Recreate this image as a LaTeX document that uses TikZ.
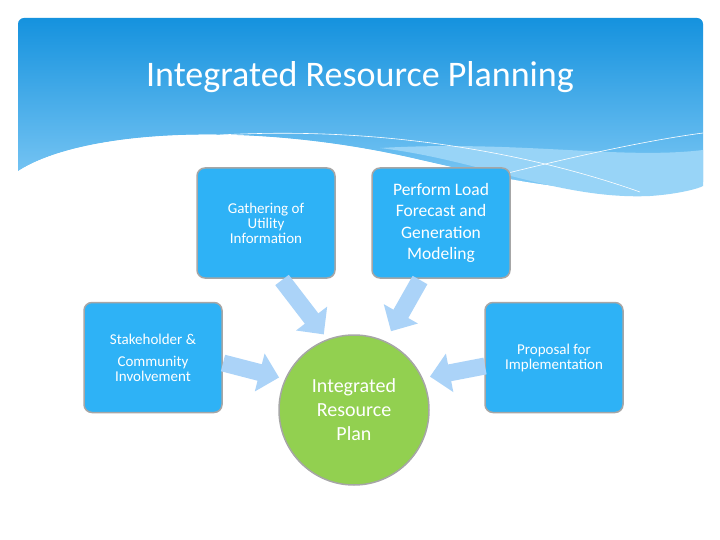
\documentclass[tikz,border=0pt]{standalone}
\usepackage{fontspec}
\setmainfont{Carlito}
\usetikzlibrary{arrows.meta}
\definecolor{boxblue}{HTML}{2EB2F6}
\definecolor{arrblue}{HTML}{ABD3F8}
\definecolor{topblue}{HTML}{1592DE}
\definecolor{lowblue}{HTML}{7FC9F5}
\definecolor{circgreen}{HTML}{92D050}
\tikzset{
  stepbox/.style={draw=gray!70, line width=1.5pt, fill=boxblue, rounded corners=8pt, minimum width=138pt, minimum height=110pt, text=white, align=center, font=\fontsize{15}{18}\selectfont, inner sep=2pt},
  flow/.style={draw=arrblue, line width=17pt, -{Triangle[length=20pt,width=38pt]}, shorten >=2pt}
}
\begin{document}
\begin{tikzpicture}[x=1pt,y=-1pt]
\useasboundingbox (0,0) rectangle (720,540);
\fill[white] (0,0) rectangle (720,540);
% header
\shade[top color=topblue, bottom color=lowblue, rounded corners=6pt]
  (18,190) -- (18,18) -- (703,18) -- (703,190) [sharp corners] -- (703,185);
\fill[white] (17,172) .. controls (80,130) and (250,120) .. (420,160)
  .. controls (530,185) and (600,200) .. (704,182) -- (704,200) -- (17,200) -- cycle;
\fill[lowblue!80] (380,148) .. controls (480,160) and (560,200) .. (650,196) .. controls (680,194) and (700,188) .. (703,186) -- (703,150) .. controls (620,160) and (520,140) .. (380,148);
\fill[white] (17,172) .. controls (80,130) and (250,120) .. (420,160)
  .. controls (500,178) and (560,195) .. (640,199) -- (640,205) -- (17,205) -- cycle;
\draw[white, line width=0.6pt] (220,135) .. controls (400,125) and (550,160) .. (640,192);
\draw[white, line width=0.6pt] (500,175) .. controls (580,155) and (650,140) .. (703,133);
\node[text=white, font=\fontsize{36}{40}\selectfont] (title) at (360,77) {Integrated Resource Planning};
% nodes
\node[stepbox] (gather) at (266,223) {Gathering of\\[-3pt]Utility\\[-3pt]Information};
\node[stepbox, font=\fontsize{17.5}{21.5}\selectfont] (perform) at (441,223) {Perform Load\\Forecast and\\Generation\\Modeling};
\node[stepbox] (stake) at (153,357.5) {Stakeholder \&\\[4pt]Community\\[-3pt]Involvement};
\node[stepbox] (prop) at (554,357.5) {Proposal for\\[-3pt]Implementation};
\coordinate (ga) at (282,280);
\coordinate (gb) at (325,336);
\coordinate (pa) at (420,280);
\coordinate (pb) at (390,333);
\coordinate (sa) at (223,363);
\coordinate (sb) at (281,378);
\coordinate (ra) at (485,366);
\coordinate (rb) at (428,377);
\draw[flow] (ga) -- (gb);
\draw[flow] (pa) -- (pb);
\draw[flow] (sa) -- (sb);
\draw[flow] (ra) -- (rb);
\node[circle, draw=gray!70, line width=1.5pt, fill=circgreen, minimum size=150pt, text=white, align=center, font=\fontsize{20}{24}\selectfont] (irp) at (354,410) {Integrated\\Resource\\Plan};
\end{tikzpicture}
\end{document}
